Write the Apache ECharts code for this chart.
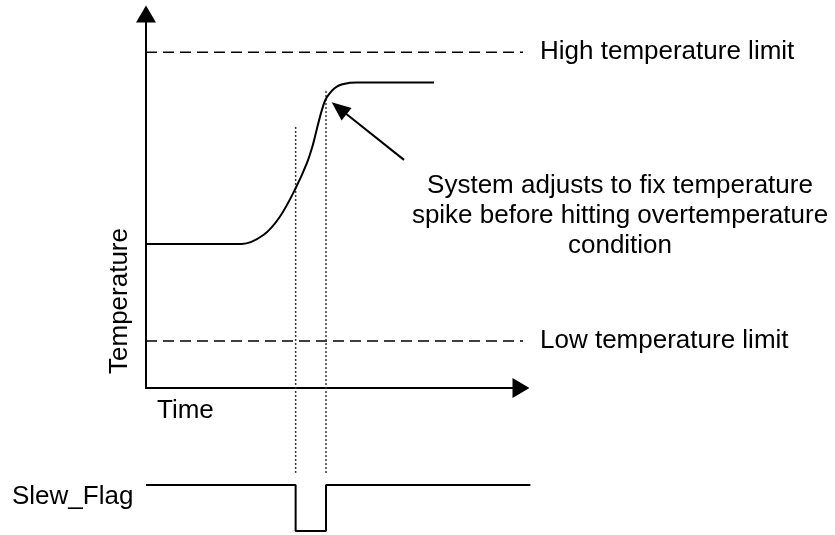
<!DOCTYPE html>
<html>
<head>
<meta charset="utf-8">
<script src="https://cdn.jsdelivr.net/npm/echarts@6/dist/echarts.min.js"></script>
<style>
  html, body { margin: 0; padding: 0; background: #fff; }
  #main { width: 835px; height: 535px; }
</style>
</head>
<body>
<div id="main"></div>
<script>
// temperature trace [time, temperature]
var tempCurve = [
    [0, 38.5], [25.5, 38.5], [31.3, 40.9], [35.7, 45.8], [39.9, 53.4],
    [42.9, 60.1], [44.5, 65.0], [45.5, 69.0], [46.9, 74.3], [48.2, 77.7],
    [50.9, 80.6], [54.4, 81.6], [56.2, 81.7], [76.8, 81.7]
];
var highLimit = [[0, 89.8], [101, 89.8]];
var lowLimit = [[0, 12.6], [101, 12.6]];
// dotted markers, they run down into the flag area
var marker1 = [[39.9, 69.8], [39.9, -22.7]];
var marker2 = [[48.0, 79.4], [48.0, -22.7]];
// Slew_Flag level 1 = high, 0 = low
var slewFlag = [[0, 1], [39.9, 1], [39.9, 0], [48.0, 0], [48.0, 1], [102.5, 1]];
// annotation arrow, tail -> tip
var noteArrow = [[68.8, 61.0], [51.5, 74.8]];

var labels = {
    high: 'High temperature limit',
    low: 'Low temperature limit',
    yName: 'Temperature',
    xName: 'Time',
    flag: 'Slew_Flag',
    note: 'System adjusts to fix temperature\nspike before hitting overtemperature\ncondition'
};

var FONT = 'Liberation Sans, Arial, sans-serif';

function limitSeries(name, data) {
    return {
        name: name, type: 'line', data: data,
        symbol: 'none', clip: false, silent: true,
        lineStyle: { color: '#000', width: 1.5, type: [11, 6] },
        endLabel: {
            show: true, distance: 17, formatter: name,
            color: '#000', fontSize: 26, fontFamily: FONT
        }
    };
}

var myChart = echarts.init(document.getElementById('main'), null, { renderer: 'canvas' });
var option = {
    animation: false,
    backgroundColor: '#fff',
    grid: [
        { left: 146, top: 14, width: 375, height: 374 },
        { left: 146, top: 485, width: 390, height: 46 }
    ],
    xAxis: [{
        gridIndex: 0, type: 'value', min: 0, max: 100,
        axisLine: { show: true, onZero: false, lineStyle: { color: '#000', width: 2 }, symbol: ['none', 'triangle'], symbolSize: [20, 17] },
        axisTick: { show: false }, axisLabel: { show: false }, splitLine: { show: false }
    }, {
        // same 3.75 px per unit as the temperature axis
        gridIndex: 1, type: 'value', min: 0, max: 104, show: false
    }],
    yAxis: [{
        gridIndex: 0, type: 'value', min: 0, max: 100,
        axisLine: { show: true, onZero: false, lineStyle: { color: '#000', width: 2 }, symbol: ['none', 'triangle'], symbolSize: [20, 17] },
        axisTick: { show: false }, axisLabel: { show: false }, splitLine: { show: false }
    }, {
        gridIndex: 1, type: 'value', min: 0, max: 1, show: false
    }],
    series: [
        limitSeries(labels.high, highLimit),
        limitSeries(labels.low, lowLimit),
    {
        name: 'marker1', type: 'line', data: marker1, symbol: 'none', clip: false,
        lineStyle: { color: '#333', width: 1.5, type: [2, 2] }
    }, {
        name: 'marker2', type: 'line', data: marker2, symbol: 'none', clip: false,
        lineStyle: { color: '#333', width: 1.5, type: [2, 2] }
    }, {
        name: 'Temperature', type: 'line', data: tempCurve, symbol: 'none',
        smooth: 0.35, clip: false,
        lineStyle: { color: '#000', width: 2 },
        markLine: {
            silent: true, symbol: ['none', 'triangle'], symbolSize: [16, 19],
            label: { show: false },
            lineStyle: { color: '#000', width: 2, type: 'solid' },
            data: [[{ coord: noteArrow[0] }, { coord: noteArrow[1] }]]
        }
    }, {
        name: labels.flag, type: 'line', xAxisIndex: 1, yAxisIndex: 1,
        data: slewFlag, symbol: 'none', clip: false,
        lineStyle: { color: '#000', width: 2 }
    }],
    graphic: [{
        type: 'text', x: 120, y: 301, rotation: Math.PI / 2,
        style: { text: labels.yName, align: 'center', verticalAlign: 'middle', fill: '#000', fontSize: 26, fontFamily: FONT }
    }, {
        type: 'text', x: 157, y: 411,
        style: { text: labels.xName, align: 'left', verticalAlign: 'middle', fill: '#000', fontSize: 26, fontFamily: FONT }
    }, {
        type: 'text', x: 12, y: 497,
        style: { text: labels.flag, align: 'left', verticalAlign: 'middle', fill: '#000', fontSize: 26, fontFamily: FONT }
    }, {
        type: 'text', x: 620, y: 216,
        style: { text: labels.note, align: 'center', verticalAlign: 'middle', lineHeight: 30, fill: '#000', fontSize: 26, fontFamily: FONT }
    }]
};
myChart.setOption(option);
</script>
</body>
</html>
